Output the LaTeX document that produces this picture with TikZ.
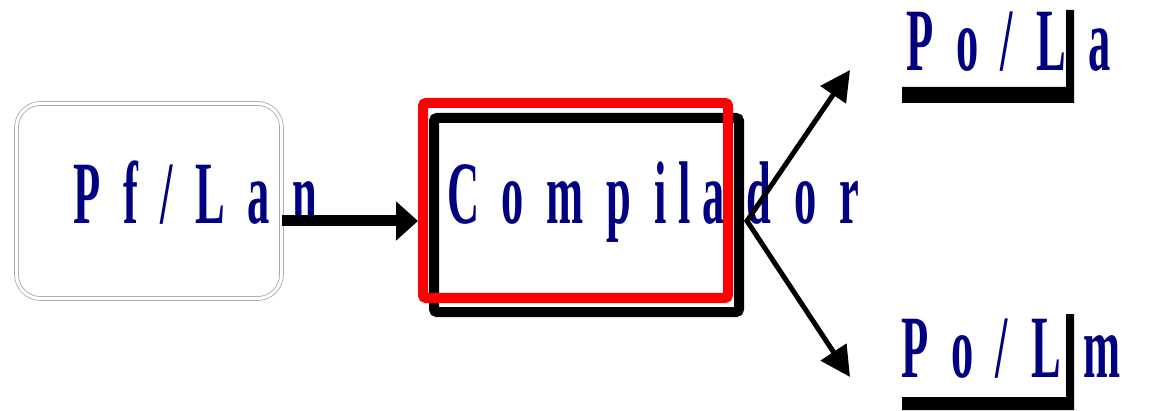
\documentclass[tikz,border=0pt]{standalone}
\usepackage{fontspec}
\newfontfamily\condfont{Liberation Serif Bold}[FakeStretch=0.5,LetterSpace=13]
\definecolor{labelNavy}{HTML}{000080}
\definecolor{boxRed}{HTML}{FF0000}
\usetikzlibrary{positioning,arrows.meta}

\begin{document}
\begin{tikzpicture}[
                x=1pt, y=1pt,
                bigtxt/.style={font=\condfont\fontsize{89}{96}\selectfont, text=labelNavy,
                               inner sep=0pt, anchor=base west},
                srcbox/.style={draw=gray!70, double, double distance=3pt, line width=0.8pt,
                               rounded corners=24pt, minimum width=265pt, minimum height=195pt},
                compbox/.style={draw=boxRed, line width=10pt, rounded corners=3pt,
                               minimum width=305pt, minimum height=195pt},
                shadowbox/.style={draw=black, line width=10pt, rounded corners=3pt,
                               minimum width=305pt, minimum height=194pt},
                flow/.style={line width=11pt, -{Triangle[length=22pt,width=38pt]}},
                outflow/.style={line width=5pt, line join=miter,
                               {Triangle[length=30pt,width=30pt]}-{Triangle[length=30pt,width=30pt]}}
            ]
                \useasboundingbox (0,0) rectangle (1162,410);
                \node[srcbox] (src) at (149,209) {};
                \node[bigtxt] (srctxt) at (73,186) {P f / L a n};
                \node[shadowbox] (compsh) at (586.5,195) {};
                \node[bigtxt] (comptxt) at (447,186) {C o m p ila d o r};
                \node[compbox] (comp) at (575.5,209.5) {};
                \coordinate (in) at ([yshift=-20pt]src.east);
                \draw[flow] (in) -- (in -| comp.west);
                \path (in -| compsh.east) ++(3pt,0) coordinate (split);
                \coordinate (hiend) at (850,340);
                \coordinate (loend) at (850,33);
                \draw[outflow] (hiend) -- (split) -- (loend);
                \fill (902,323) -- (1066,323) -- (1066,400) -- (1074,400) -- (1074,307) -- (902,307) -- cycle;
                \fill (902,13) -- (1066,13) -- (1066,96) -- (1074,96) -- (1074,0) -- (902,0) -- cycle;
                \node[bigtxt] (outA) at (906,339) {P o / L a};
                \node[bigtxt] (outB) at (901,33) {P o / L m};
            \end{tikzpicture}
\end{document}
